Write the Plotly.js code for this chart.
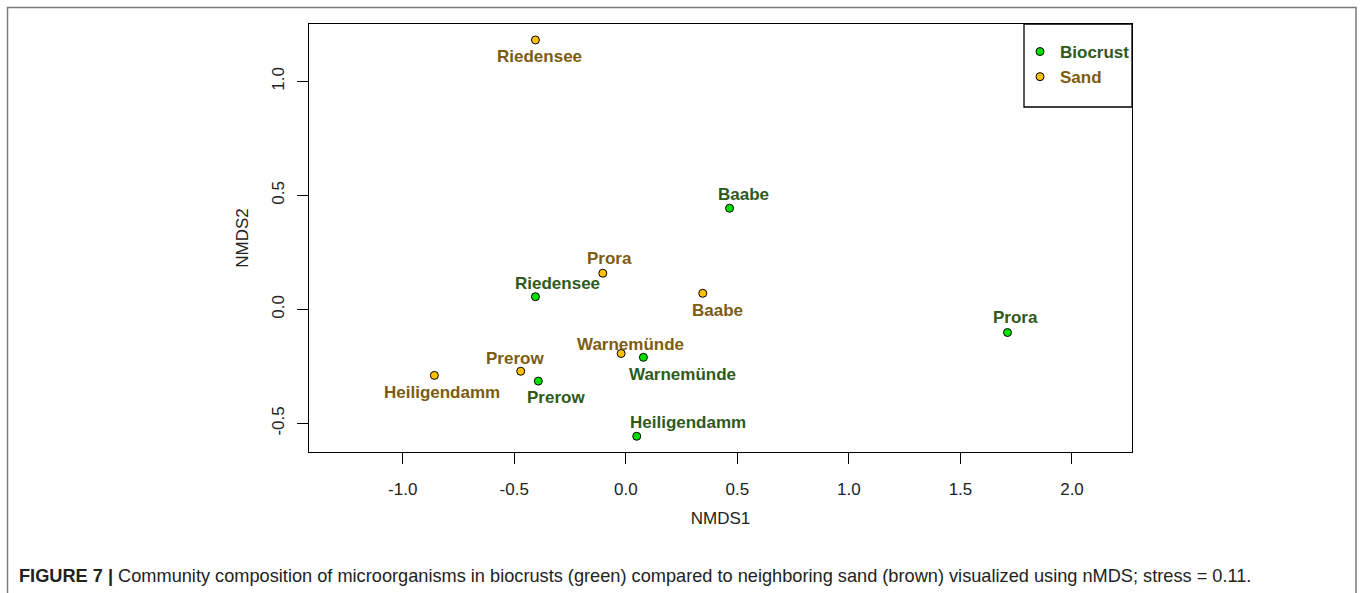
<!DOCTYPE html>
<html>
<head>
<meta charset="utf-8">
<script src="https://cdn.plot.ly/plotly-3.0.1.min.js"></script>
<style>html,body{margin:0;padding:0;background:#fff;}#chart{width:1360px;height:593px;}</style>
</head>
<body>
<div id="chart"></div>
<script>
// ---- data ----
var sites = ['Riedensee', 'Prora', 'Baabe', 'Warnemünde', 'Prerow', 'Heiligendamm'];
var biocrustX = [-0.405, 1.711, 0.465, 0.079, -0.392, 0.049];
var biocrustY = [0.056, -0.101, 0.444, -0.210, -0.314, -0.556];
var sandX = [-0.405, -0.103, 0.345, -0.021, -0.471, -0.858];
var sandY = [1.182, 0.159, 0.071, -0.193, -0.271, -0.289];
var groupNames = ['Biocrust', 'Sand'];
var xTicks = [-1.0, -0.5, 0.0, 0.5, 1.0, 1.5, 2.0];
var yTicks = [-0.5, 0.0, 0.5, 1.0];
var captionBold = 'FIGURE 7 |';
var captionText = 'Community composition of microorganisms in biocrusts (green) compared to neighboring sand (brown) visualized using nMDS; stress = 0.11.';

// ---- styles ----
var FONT = 'Liberation Sans, Arial, Helvetica, sans-serif';
var greenFill = '#00e000', sandFill = '#ffc000';
var greenText = '#2e5a1c', sandText = '#7d5c12';
// label offsets in screen pixels [dx, dy(down)]
var bioShift = [[22, -13], [8, -15], [14, -14], [39, 17], [18, 16], [51, -14]];
var sandShift = [[4, 17], [7, -15], [15, 17], [9, -9], [-6, -13], [8, 17]];

var W = 1360, H = 593, L = 309, R = 228, T = 24, B = 141;
var pw = W - L - R, ph = H - T - B;
function px2x(p) { return (p - L) / pw; }
function py2y(p) { return (H - B - p) / ph; }

var traces = [
  {x: biocrustX, y: biocrustY, text: sites, mode: 'markers', type: 'scatter',
   name: '<b><span style="color:' + greenText + '">' + groupNames[0] + '</span></b>',
   marker: {size: 8, color: greenFill, line: {color: '#000', width: 1}}, hoverinfo: 'text+x+y'},
  {x: sandX, y: sandY, text: sites, mode: 'markers', type: 'scatter',
   name: '<b><span style="color:' + sandText + '">' + groupNames[1] + '</span></b>',
   marker: {size: 8, color: sandFill, line: {color: '#000', width: 1}}, hoverinfo: 'text+x+y'}
];

var annotations = [];
sites.forEach(function (s, i) {
  annotations.push({x: biocrustX[i], y: biocrustY[i], text: '<b>' + s + '</b>', showarrow: false,
    xshift: bioShift[i][0], yshift: -bioShift[i][1], xanchor: 'center', yanchor: 'middle',
    font: {family: FONT, size: 17, color: greenText}});
  annotations.push({x: sandX[i], y: sandY[i], text: '<b>' + s + '</b>', showarrow: false,
    xshift: sandShift[i][0], yshift: -sandShift[i][1], xanchor: 'center', yanchor: 'middle',
    font: {family: FONT, size: 17, color: sandText}});
});
annotations.push({xref: 'paper', yref: 'paper', x: px2x(17), y: py2y(576), xanchor: 'left', yanchor: 'middle',
  showarrow: false, text: '<b>' + captionBold + '</b> ' + captionText,
  font: {family: FONT, size: 18.2, color: '#222'}});

var shapes = [
  {type: 'rect', xref: 'paper', yref: 'paper', x0: px2x(7.5), x1: px2x(1356), y0: py2y(610), y1: py2y(7.5),
   line: {color: '#7a7a7a', width: 1.5}, fillcolor: 'rgba(0,0,0,0)', layer: 'below'},
  {type: 'rect', xref: 'paper', yref: 'paper', x0: px2x(1024), x1: 1, y0: py2y(107), y1: 1,
   line: {color: '#000', width: 1.3}, fillcolor: 'rgba(0,0,0,0)'}
];

var axisCommon = {showgrid: false, zeroline: false, showline: true, mirror: true, linecolor: '#000', linewidth: 1.3,
  ticks: 'outside', ticklen: 11, tickwidth: 1.3, tickcolor: '#000',
  tickfont: {family: FONT, size: 17, color: '#222'}, tickmode: 'array'};

var layout = {
  width: W, height: H, margin: {l: L, r: R, t: T, b: B}, paper_bgcolor: '#fff', plot_bgcolor: '#fff',
  showlegend: true,
  legend: {x: px2x(1020), y: py2y(34), xanchor: 'left', yanchor: 'top', bgcolor: 'rgba(0,0,0,0)',
    font: {family: FONT, size: 17}, tracegroupgap: 0, itemwidth: 30},
  xaxis: Object.assign({}, axisCommon, {range: [-1.420, 2.269], tickvals: xTicks,
    ticktext: xTicks.map(function (v) { return v.toFixed(1); }), ticklabelstandoff: 10,
    title: {text: 'NMDS1', font: {family: FONT, size: 17, color: '#222'}, standoff: 14}}),
  yaxis: Object.assign({}, axisCommon, {range: [-0.625, 1.252], tickvals: yTicks,
    ticktext: yTicks.map(function (v) { return v.toFixed(1); }), tickangle: -90, ticklabelstandoff: 6,
    title: {text: 'NMDS2', font: {family: FONT, size: 17, color: '#222'}, standoff: 16}}),
  annotations: annotations, shapes: shapes
};

Plotly.newPlot('chart', traces, layout, {displayModeBar: false, staticPlot: false});
</script>
</body>
</html>
